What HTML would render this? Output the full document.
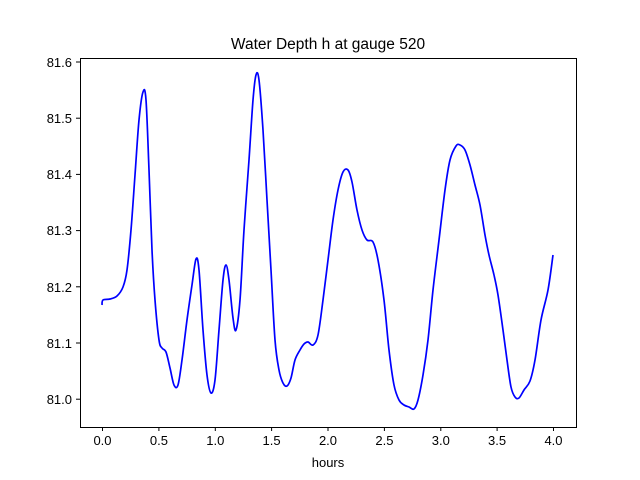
<!DOCTYPE html>
<html><head><meta charset="utf-8"><style>body{margin:0;background:#fff}svg{display:block}text{font-family:"Liberation Sans","DejaVu Sans",sans-serif;font-size:13px;fill:#000}</style></head>
<body>
<svg width="640" height="480" viewBox="0 0 640 480">
<rect width="640" height="480" fill="#fff"/>
<path id="curve" fill="none" stroke="#0000ff" stroke-width="1.7" stroke-linejoin="round" d=""/>
<rect x="80.5" y="58.5" width="496" height="369" fill="none" stroke="#000" stroke-width="1"/>
<g stroke="#000" stroke-width="1">
<line x1="102.5" y1="427" x2="102.5" y2="431"/><line x1="158.9" y1="427" x2="158.9" y2="431"/><line x1="215.3" y1="427" x2="215.3" y2="431"/><line x1="271.6" y1="427" x2="271.6" y2="431"/><line x1="328" y1="427" x2="328" y2="431"/><line x1="384.4" y1="427" x2="384.4" y2="431"/><line x1="440.8" y1="427" x2="440.8" y2="431"/><line x1="497.1" y1="427" x2="497.1" y2="431"/><line x1="553.5" y1="427" x2="553.5" y2="431"/>
<line x1="76" y1="399.2" x2="80" y2="399.2"/><line x1="76" y1="343" x2="80" y2="343"/><line x1="76" y1="286.8" x2="80" y2="286.8"/><line x1="76" y1="230.6" x2="80" y2="230.6"/><line x1="76" y1="174.4" x2="80" y2="174.4"/><line x1="76" y1="118.2" x2="80" y2="118.2"/><line x1="76" y1="62" x2="80" y2="62"/>
</g>
<g text-anchor="middle">
<text x="102.5" y="445">0.0</text><text x="158.9" y="445">0.5</text><text x="215.3" y="445">1.0</text><text x="271.6" y="445">1.5</text><text x="328" y="445">2.0</text><text x="384.4" y="445">2.5</text><text x="440.8" y="445">3.0</text><text x="497.1" y="445">3.5</text><text x="553.5" y="445">4.0</text>
<text x="328" y="467">hours</text>
<text x="328" y="49" style="font-size:15.5px">Water Depth h at gauge 520</text>
</g>
<g text-anchor="end">
<text x="72" y="404">81.0</text><text x="72" y="348">81.1</text><text x="72" y="292">81.2</text><text x="72" y="235">81.3</text><text x="72" y="179">81.4</text><text x="72" y="123">81.5</text><text x="72" y="67">81.6</text>
</g>
</svg>
<script>
var p=[102,305,103,300,110,299,117,296,123,287,127,270,131,230,135,175,139,120,143,92,146,100,149,170,152,250,155,300,159,340,162,348,166,352,170,368,174,385,178,385,182,360,187,320,192,285,196,259,199,270,203,330,207,375,211,393,215,380,219,330,223,280,226,265,229,280,233,318,236,330,240,300,244,230,249,160,253,100,256,75,259,80,263,130,267,200,271,270,275,340,279,370,283,383,287,386,291,378,295,360,300,350,304,344,308,342,313,345,318,335,323,300,328,260,333,220,338,190,343,172,348,170,352,182,357,210,362,230,367,240,373,242,378,260,384,300,389,350,394,385,399,400,404,405,409,407,414,409,418,400,423,375,428,340,433,290,439,240,445,190,450,160,456,146,460,145,465,150,470,165,475,185,480,205,485,235,489,255,494,275,498,295,503,330,507,360,511,387,515,397,519,398,524,390,530,381,535,360,541,320,548,290,553,255];
var pts=[];for(var i=0;i<p.length;i+=2)pts.push([p[i],p[i+1]]);
var d="M"+pts[0][0]+","+pts[0][1];
for(var i=0;i<pts.length-1;i++){var a=pts[Math.max(i-1,0)],b=pts[i],c=pts[i+1],e=pts[Math.min(i+2,pts.length-1)];
d+=" C"+(b[0]+(c[0]-a[0])/6)+","+(b[1]+(c[1]-a[1])/6)+" "+(c[0]-(e[0]-b[0])/6)+","+(c[1]-(e[1]-b[1])/6)+" "+c[0]+","+c[1];}
document.getElementById("curve").setAttribute("d",d);
</script>
</body></html>
